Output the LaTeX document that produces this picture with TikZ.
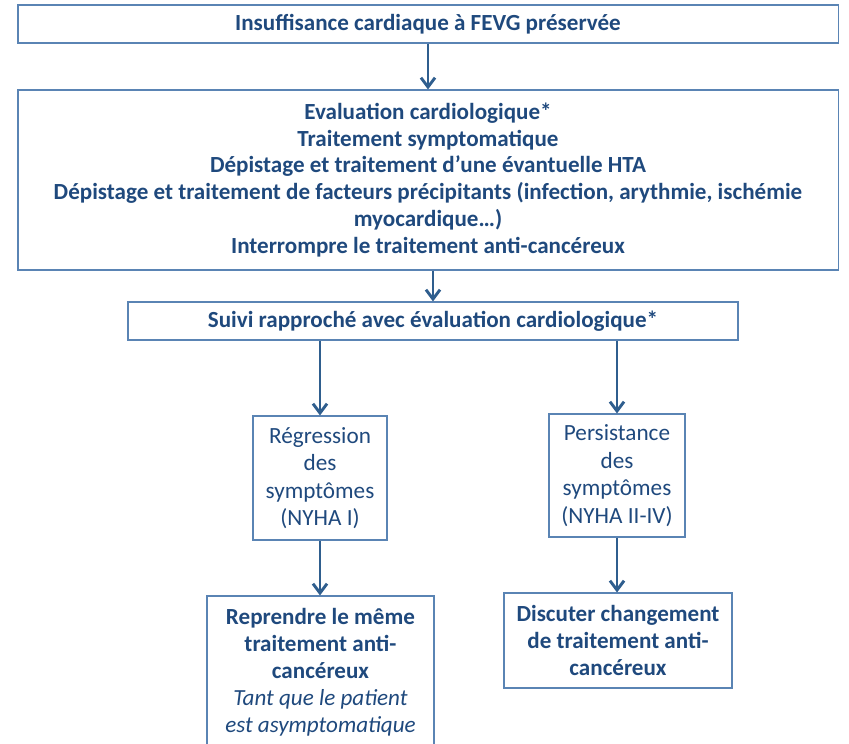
\documentclass[tikz,border=0pt]{standalone}
\usepackage{fontspec}
\setmainfont{Carlito}
\usetikzlibrary{arrows.meta}

\definecolor{txtblue}{HTML}{1F497D}
\definecolor{boxline}{HTML}{5A84B4}
\definecolor{arrblue}{HTML}{2F5E8E}

\tikzset{
    box/.style={draw=boxline, line width=0.9pt, text=txtblue, align=center, inner sep=0pt},
    bold/.style={font=\fontsize{19.7}{23}\selectfont\bfseries},
    plain/.style={font=\fontsize{19.8}{23.5}\selectfont},
    arr/.style={draw=arrblue, line width=2.5pt, -{Straight Barb[length=8pt, width=12pt, line width=2.5pt]}}
}

\begin{document}
\begin{tikzpicture}[x=0.03cm, y=-0.03cm]
    \useasboundingbox (0,0) rectangle (849,743);

    % Top
    \node[box, bold, minimum width=24.6cm, minimum height=1.14cm] (top) at (428,24)
        {Insuffisance cardiaque à FEVG préservée};

    % Evaluation
    \node[box, bold, minimum width=24.6cm, minimum height=5.4cm] (eval) at (428,180)
        {Evaluation cardiologique*\\
         Traitement symptomatique\\
         Dépistage et traitement d’une évantuelle HTA\\
         Dépistage et traitement de facteurs précipitants (infection, arythmie, ischémie\\
         myocardique…)\\
         Interrompre le traitement anti-cancéreux};

    % Suivi
    \node[box, bold, minimum width=18.3cm, minimum height=1.14cm] (suivi) at (433,321)
        {Suivi rapproché avec évaluation cardiologique*};

    % Two branches
    \node[box, plain, minimum width=4.02cm, minimum height=3.72cm] (regr) at (320,478)
        {Régression\\des\\symptômes\\(NYHA I)};
    \node[box, plain, minimum width=4.08cm, minimum height=3.69cm] (pers) at (617,475.5)
        {Persistance\\des\\symptômes\\(NYHA II-IV)};

    % Outcomes
    \node[box, bold, minimum width=6.81cm, minimum height=4.59cm] (reprendre) at (320.5,672.5)
        {Reprendre le même\\traitement anti-\\cancéreux\\
         \mdseries\itshape Tant que le patient\\\mdseries\itshape est asymptomatique};
    \node[box, bold, minimum width=6.84cm, minimum height=2.85cm] (discuter) at (618,640.5)
        {Discuter changement\\de traitement anti-\\cancéreux};

    \draw[arr] (top.south) -- (eval.north);
    \draw[arr] (suivi.north |- eval.south) -- (suivi.north);
    \draw[arr] (suivi.south -| regr.north) -- (regr.north);
    \draw[arr] (suivi.south -| pers.north) -- (pers.north);
    \draw[arr] (regr.south) -- (regr.south |- reprendre.north);
    \draw[arr] (pers.south) -- (pers.south |- discuter.north);
\end{tikzpicture}
\end{document}
